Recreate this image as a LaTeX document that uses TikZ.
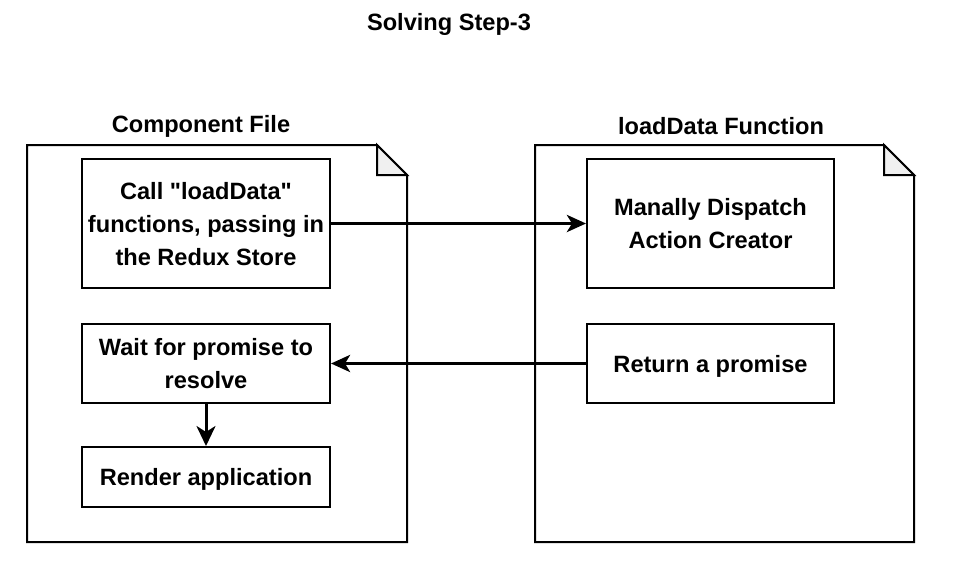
\documentclass[tikz,border=0pt]{standalone}
\usepackage{fontspec}
\setmainfont{Liberation Sans}[Ligatures=TeXOff]
\usetikzlibrary{arrows.meta}
\tikzset{
  doc/.style={draw=black,line width=2pt,fill=white},
  fold/.style={draw=black,line width=2pt,fill=black!6,line join=miter},
  box/.style={draw=black,line width=2pt,fill=white,align=center,inner sep=0pt,
    text depth=0pt,font=\fontsize{23.6}{33}\selectfont\bfseries},
  ttl/.style={font=\fontsize{23.6}{28}\selectfont\bfseries,inner sep=0pt},
  bigarr/.style={line width=3.5pt,-{Stealth[length=19pt,width=17pt,inset=5pt]}},
  smallarr/.style={line width=3pt,-{Stealth[length=20pt,width=19pt,inset=6pt]}},
}
\begin{document}
\begin{tikzpicture}[x=1pt,y=-1pt]
\useasboundingbox (0,0) rectangle (976,578);
% documents
\draw[doc] (27,145) -- (377,145) -- (407,175) -- (407,542) -- (27,542) -- cycle;
\draw[fold] (377,145) -- (377,175) -- (407,175) -- cycle;
\draw[doc] (535,145) -- (884,145) -- (914,175) -- (914,542) -- (535,542) -- cycle;
\draw[fold] (884,145) -- (884,175) -- (914,175) -- cycle;
% titles
\node[ttl] (title) at (449,24) {Solving Step-3};
\node[ttl] (lt) at (201,126) {Component File};
\node[ttl] (rt) at (721,126) {loadData Function};
% boxes
\node[box,minimum width=248pt,minimum height=129pt] (call) at (206,223.5)
  {Call "loadData"\\functions, passing in\\the Redux Store};
\node[box,minimum width=248pt,minimum height=79pt] (wait) at (206,363.5)
  {Wait for promise to\\resolve};
\node[box,minimum width=248pt,minimum height=60pt] (render) at (206,477)
  {Render application};
\node[box,minimum width=247pt,minimum height=129pt] (disp) at (710.5,223.5)
  {Manally Dispatch\\Action Creator};
\node[box,minimum width=247pt,minimum height=79pt] (ret) at (710.5,363.5)
  {Return a promise};
% connectors
\draw[bigarr] (call.east) -- (disp.west);
\draw[bigarr] (ret.west) -- (wait.east);
\draw[smallarr] (wait.south) -- (render.north);
\end{tikzpicture}
\end{document}
